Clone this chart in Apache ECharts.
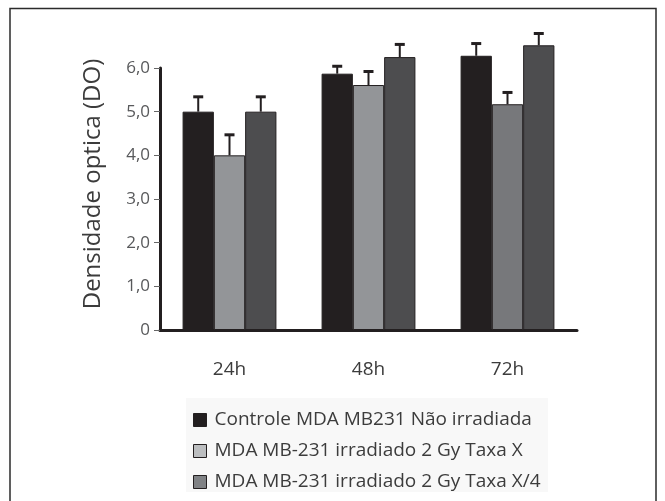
<!DOCTYPE html>
<html>
<head>
<meta charset="utf-8">
<script src="https://cdn.jsdelivr.net/npm/echarts@6/dist/echarts.min.js"></script>
<style>
html,body{margin:0;padding:0;background:#fff;}
#chart{width:665px;height:501px;}
</style>
</head>
<body>
<div id="chart"></div>
<script>
const categories = ['24h', '48h', '72h'];
const seriesNames = [
  'Controle MDA MB231 Não irradiada',
  'MDA MB-231 irradiado 2 Gy Taxa X',
  'MDA MB-231 irradiado 2 Gy Taxa X/4'
];
const controlValues = [5.0, 5.87, 6.28];
const taxaXValues = [4.0, 5.61, 5.17];
const taxaX4Values = [5.0, 6.25, 6.52];
const controlErr = [0.34, 0.17, 0.28];
const taxaXErr = [0.47, 0.31, 0.27];
const taxaX4Err = [0.34, 0.29, 0.27];
const yTicks = [0, 1, 2, 3, 4, 5, 6];

const colors = ['#231f20', '#939598', '#4d4d4f'];
const legendColors = ['#231f20', '#bcbec0', '#808285'];
const values = [controlValues, taxaXValues, taxaX4Values];
const errs = [controlErr, taxaXErr, taxaX4Err];
const BAR_FRAC = 0.225;

const chart = echarts.init(document.getElementById('chart'));

const barSeries = values.map((vals, k) => ({
  name: seriesNames[k],
  type: 'bar',
  barWidth: (BAR_FRAC * 100) + '%',
  barGap: '0%',
  clip: false,
  itemStyle: { color: colors[k], borderColor: '#231f20', borderWidth: 1 },
  data: vals.map((v, i) => {
    if (k === 1 && i === 2) return { value: v, itemStyle: { color: '#77787b' } };
    return v;
  }),
  z: 2
}));

const errSeries = errs.map((es, k) => ({
  type: 'custom',
  clip: false,
  silent: true,
  z: 3,
  data: es.map((e, i) => [i, values[k][i], e]),
  renderItem: function (params, api) {
    const ci = api.value(0), v = api.value(1), e = api.value(2);
    const base = api.coord([ci, v]);
    const topP = api.coord([ci, v + e]);
    const band = api.size([1, 0])[0];
    const bw = band * BAR_FRAC;
    const x = base[0] + (k - 1) * bw;
    return {
      type: 'group',
      children: [
        { type: 'line', shape: { x1: x, y1: base[1], x2: x, y2: topP[1] },
          style: { stroke: '#231f20', lineWidth: 2 } },
        { type: 'line', shape: { x1: x - 5, y1: topP[1], x2: x + 5, y2: topP[1] },
          style: { stroke: '#231f20', lineWidth: 3 } }
      ]
    };
  }
}));

const option = {
  backgroundColor: '#ffffff',
  animation: false,
  graphic: [
    { type: 'rect', shape: { x: 186, y: 398, width: 362, height: 94 },
      style: { fill: '#f8f8f8' }, z: -1 },
    { type: 'polyline', shape: { points: [[10, 510], [10, 8.5], [656, 8.5], [656, 510]] },
      style: { stroke: '#2b2b2b', lineWidth: 1.5, fill: null }, z: 10 }
  ],
  grid: { left: 160, right: 88, top: 68, bottom: 171, containLabel: false },
  legend: {
    orient: 'vertical',
    left: 188,
    top: 405,
    itemWidth: 13,
    itemHeight: 13,
    itemGap: 11,
    icon: 'rect',
    textStyle: { fontFamily: 'Open Sans', fontSize: 19, lineHeight: 20, color: '#3c3c3c', padding: [0, 0, 0, 3] },
    data: seriesNames.map((n, k) => ({ name: n, itemStyle: { color: legendColors[k], borderColor: '#231f20', borderWidth: 1 } }))
  },
  xAxis: {
    type: 'category',
    data: categories,
    axisLine: { show: true, lineStyle: { color: '#231f20', width: 3 } },
    axisTick: { show: false },
    axisLabel: { fontFamily: 'Open Sans', fontSize: 19, color: '#3c3c3c', margin: 30 }
  },
  yAxis: {
    type: 'value',
    min: 0,
    max: 6,
    interval: 1,
    name: 'Densidade optica (DO)',
    nameLocation: 'middle',
    nameRotate: 90,
    nameGap: 55,
    nameTextStyle: { fontFamily: 'Open Sans', fontSize: 24, color: '#3c3c3c', padding: [0, 0, 0, 30] },
    splitLine: { show: false },
    axisLine: { show: true, lineStyle: { color: '#231f20', width: 3 } },
    axisTick: { show: true, length: 6, lineStyle: { color: '#666', width: 1 } },
    axisLabel: {
      fontFamily: 'Open Sans', fontSize: 17, color: '#58595b', margin: 10,
      formatter: function (v) { return v === 0 ? '0' : v.toFixed(1).replace('.', ','); }
    }
  },
  series: barSeries.concat(errSeries)
};
chart.setOption(option);
</script>
</body>
</html>
